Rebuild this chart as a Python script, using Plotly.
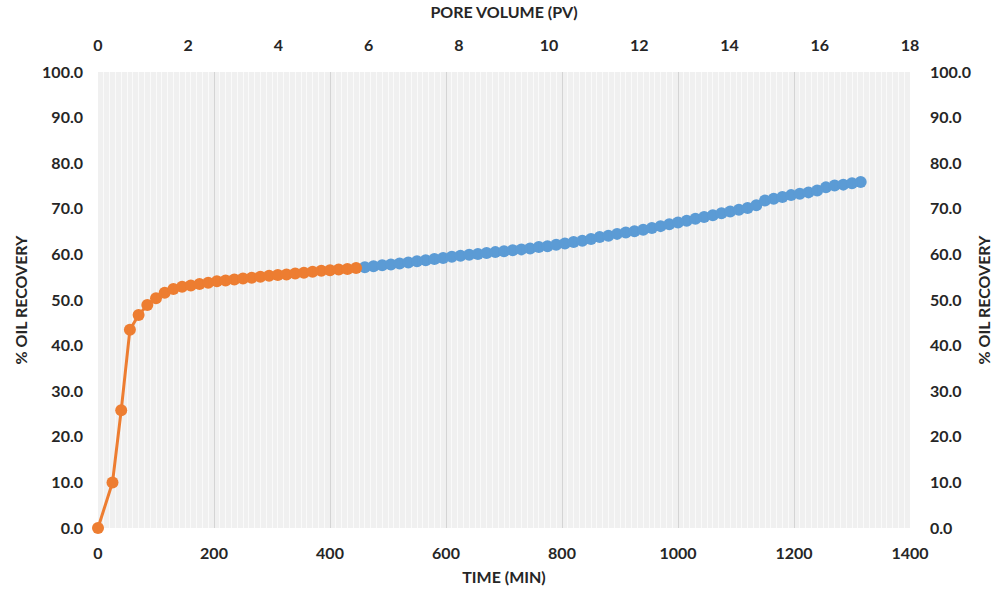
import plotly.graph_objects as go

# ---- data ----
time_orange = [0, 25, 40, 55, 70, 85, 100, 115, 130, 145, 160, 175, 190, 205, 220,
               235, 250, 265, 280, 295, 310, 325, 340, 355, 370, 385, 400, 415, 430, 445]
rec_orange = [0.0, 10.0, 25.8, 43.5, 46.7, 48.9, 50.4, 51.6, 52.4, 52.9, 53.2, 53.5, 53.8, 54.1, 54.3,
              54.5, 54.7, 54.9, 55.1, 55.3, 55.5, 55.6, 55.8, 56.0, 56.2, 56.4, 56.5, 56.7, 56.8, 57.0]

time_blue = [460, 475, 490, 505, 520, 535, 550, 565, 580, 595, 610, 625, 640, 655, 670,
             685, 700, 715, 730, 745, 760, 775, 790, 805, 820, 835, 850, 865, 880, 895,
             910, 925, 940, 955, 970, 985, 1000, 1015, 1030, 1045, 1060, 1075, 1090, 1105, 1120,
             1135, 1150, 1165, 1180, 1195, 1210, 1225, 1240, 1255, 1270, 1285, 1300, 1315]
rec_blue = [57.2, 57.4, 57.6, 57.8, 58.0, 58.2, 58.5, 58.7, 59.0, 59.2, 59.5, 59.7, 59.9, 60.1, 60.3,
            60.5, 60.7, 60.9, 61.1, 61.3, 61.6, 61.8, 62.1, 62.4, 62.7, 63.0, 63.4, 63.8, 64.1, 64.5,
            64.8, 65.1, 65.4, 65.8, 66.2, 66.6, 67.0, 67.4, 67.8, 68.2, 68.6, 69.0, 69.4, 69.8, 70.2,
            70.8, 71.8, 72.2, 72.6, 73.0, 73.3, 73.6, 74.0, 74.7, 75.1, 75.3, 75.6, 75.9]

x_title = "TIME (MIN)"
x2_title = "PORE VOLUME (PV)"
y_title = "% OIL RECOVERY"
x_range = [0, 1400]
pv_range = [0, 18]
y_range = [0, 100]

ORANGE = "#ed7d31"
BLUE = "#5b9bd5"
FONT = "Lato"
TXT = "#262626"

fig = go.Figure()
fig.add_trace(go.Scatter(x=time_blue, y=rec_blue, mode="lines+markers",
                         line=dict(color=BLUE, width=3),
                         marker=dict(color=BLUE, size=12),
                         cliponaxis=False, showlegend=False))
fig.add_trace(go.Scatter(x=time_orange, y=rec_orange, mode="lines+markers",
                         line=dict(color=ORANGE, width=3),
                         marker=dict(color=ORANGE, size=12),
                         cliponaxis=False, showlegend=False))
# invisible trace to activate the secondary axes
fig.add_trace(go.Scatter(x=pv_range, y=y_range, xaxis="x2", yaxis="y2",
                         mode="markers", marker=dict(opacity=0), hoverinfo="skip",
                         showlegend=False))

tickfont = dict(family=FONT, size=16, color=TXT, weight="bold")
titlefont = dict(family=FONT, size=16, color=TXT, weight="bold")

fig.update_layout(
    width=1002, height=597,
    margin=dict(l=98, r=92, t=72, b=69),
    paper_bgcolor="white",
    plot_bgcolor="#f0f0f0",
    xaxis=dict(range=x_range, dtick=200, tickformat="d",
               showgrid=True, gridcolor="#d4d4d4", gridwidth=1,
               minor=dict(dtick=10, showgrid=True, gridcolor="#fafafa", gridwidth=1),
               zeroline=False, showline=False, ticks="",
               tickfont=tickfont, ticklabelstandoff=14,
               title=dict(text=x_title, font=titlefont, standoff=10)),
    xaxis2=dict(range=pv_range, dtick=2, overlaying="x", side="top",
                showgrid=False, zeroline=False, showline=False, ticks="",
                tickfont=tickfont, ticklabelstandoff=17,
                title=dict(text=x2_title, font=titlefont, standoff=12)),
    yaxis=dict(range=y_range, dtick=10, tickformat=".1f",
               showgrid=False, zeroline=False, showline=False, ticks="",
               tickfont=tickfont, ticklabelstandoff=14,
               title=dict(text=y_title, font=titlefont, standoff=10)),
    yaxis2=dict(range=y_range, dtick=10, tickformat=".1f", overlaying="y", side="right",
                showgrid=False, zeroline=False, showline=False, ticks="",
                tickfont=tickfont, ticklabelstandoff=19,
                title=dict(text=y_title, font=titlefont, standoff=8)),
)

fig.write_html("out.html")
